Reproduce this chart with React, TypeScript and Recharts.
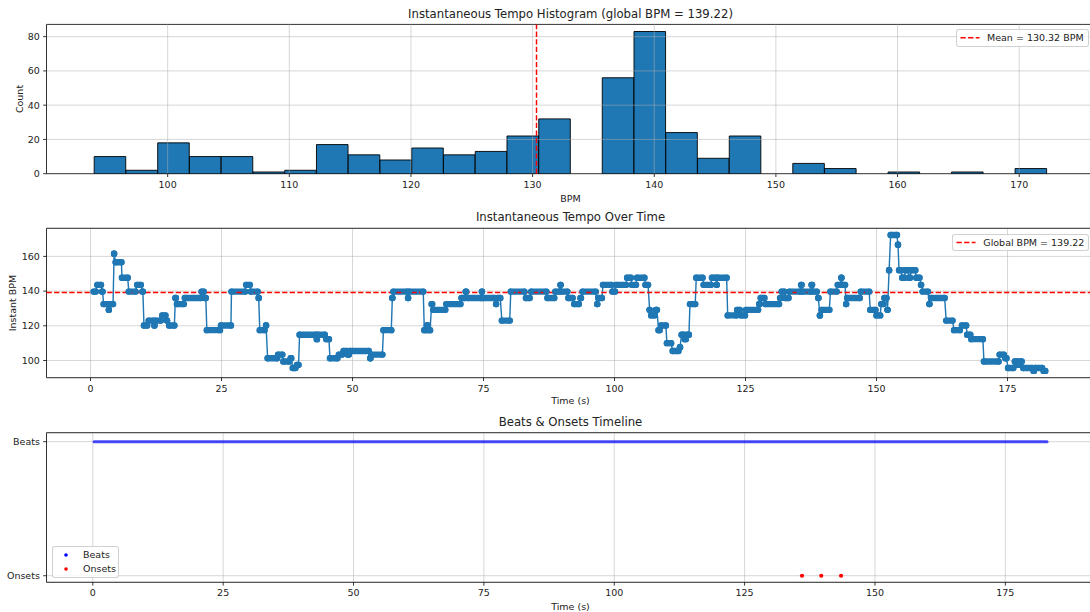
import React from 'react';
import {
  ComposedChart,
  Bar,
  Line,
  Scatter,
  XAxis,
  YAxis,
  CartesianGrid,
  ReferenceLine,
  ReferenceArea,
} from 'recharts';

// ---------------- data ----------------
const histBinCenters = [
  95.265, 97.876, 100.486, 103.096, 105.707, 108.317, 110.927, 113.538, 116.148, 118.758,
  121.369, 123.979, 126.589, 129.2, 131.81, 134.42, 137.031, 139.641, 142.251, 144.862,
  147.472, 150.082, 152.693, 155.303, 157.913, 160.524, 163.134, 165.744, 168.355, 170.965,
];
const histCounts = [
  10, 2, 18, 10, 10, 1, 2, 17, 11, 8, 15, 11, 13, 22, 32, 0, 56, 83, 24, 9, 22, 0, 6, 3, 0, 1, 0, 1,
  0, 3,
];
const histBinWidth = 2.61;
const meanBpm = 130.32;
const globalBpm = 139.22;
const bpmTicks = [100, 110, 120, 130, 140, 150, 160, 170];
const countTicks = [0, 20, 40, 60, 80];

// tempo runs: [start time (s), end time (s), instant BPM]
const tempoRuns: [number, number, number][] = [
  [0.6, 1.0, 139.7], [1.3, 2.0, 143.6], [2.2, 2.3, 139.7], [2.5, 3.2, 132.5], [3.5, 3.5, 129.2],
  [3.8, 4.3, 132.5], [4.5, 4.5, 161.5], [4.8, 5.9, 156.6], [6.0, 7.1, 147.7], [7.3, 8.6, 139.7],
  [8.9, 9.6, 143.6], [9.9, 10.0, 139.7], [10.2, 10.8, 120.2], [11.1, 12.0, 123.0], [12.2, 12.2, 120.2],
  [12.4, 13.4, 123.0], [13.7, 14.3, 126.0], [14.6, 14.6, 123.0], [15.0, 16.0, 120.2], [16.2, 16.3, 136.0],
  [16.5, 17.8, 132.5], [18.0, 21.0, 136.0], [21.2, 21.6, 139.7], [21.8, 22.0, 136.0], [22.2, 24.7, 117.5],
  [24.9, 26.8, 120.2], [26.9, 29.5, 139.7], [29.7, 30.4, 143.6], [30.6, 31.9, 139.7], [32.1, 32.1, 136.0],
  [32.3, 33.2, 117.5], [33.5, 33.5, 120.2], [33.8, 35.6, 101.3], [35.8, 36.6, 103.4], [36.8, 37.9, 99.4],
  [38.2, 38.3, 101.3], [38.6, 39.1, 95.7], [39.4, 39.7, 97.5], [39.9, 43.0, 114.8], [43.2, 43.2, 112.3],
  [43.4, 44.7, 114.8], [45.0, 45.5, 112.3], [45.7, 47.1, 101.3], [47.4, 48.0, 103.4], [48.3, 48.9, 105.5],
  [49.1, 49.3, 103.4], [49.5, 53.1, 105.5], [53.4, 53.4, 101.3], [53.6, 55.7, 103.4], [55.9, 57.4, 117.5],
  [57.6, 57.6, 136.0], [57.8, 60.4, 139.7], [60.6, 60.6, 136.0], [60.8, 63.5, 139.7], [63.7, 64.0, 117.5],
  [64.2, 64.4, 120.2], [64.6, 64.8, 117.5], [65.1, 65.2, 132.5], [65.4, 67.7, 129.2], [67.9, 70.6, 132.5],
  [70.8, 71.4, 136.0], [71.6, 71.7, 139.7], [72.0, 74.5, 136.0], [74.7, 74.7, 139.7], [74.9, 77.1, 136.0],
  [77.4, 77.4, 132.5], [77.7, 78.2, 136.0], [78.5, 80.0, 123.0], [80.2, 82.8, 139.7], [83.1, 83.8, 136.0],
  [84.1, 87.0, 139.7], [87.2, 88.5, 136.0], [88.7, 89.4, 139.7], [89.7, 89.7, 143.6], [89.9, 91.0, 139.7],
  [91.2, 92.0, 136.0], [92.3, 93.2, 132.5], [93.5, 93.6, 136.0], [93.9, 96.4, 139.7], [96.7, 96.7, 132.5],
  [96.9, 97.6, 136.0], [97.8, 99.4, 143.6], [99.6, 100.1, 139.7], [100.3, 102.2, 143.6], [102.4, 103.1, 147.7],
  [103.3, 104.1, 143.6], [104.3, 105.7, 147.7], [105.9, 106.4, 143.6], [106.7, 106.7, 129.2], [107.0, 107.6, 126.0],
  [107.9, 108.1, 129.2], [108.4, 108.6, 117.5], [108.9, 109.8, 120.2], [110.0, 110.8, 110.0], [111.1, 112.2, 105.5],
  [112.5, 112.5, 107.7], [112.8, 113.2, 114.8], [113.4, 113.6, 112.3], [113.8, 114.2, 114.8], [114.4, 115.4, 132.5],
  [115.6, 116.8, 147.7], [117.0, 118.4, 143.6], [118.6, 119.3, 147.7], [119.5, 119.5, 143.6], [119.7, 121.4, 147.7],
  [121.6, 123.2, 126.0], [123.4, 123.9, 129.2], [124.2, 124.9, 126.0], [125.1, 127.4, 129.2], [127.6, 127.7, 132.5],
  [127.9, 128.6, 136.0], [128.8, 131.4, 132.5], [131.6, 131.7, 136.0], [131.9, 132.4, 139.7], [132.6, 133.2, 136.0],
  [133.4, 135.4, 139.7], [135.6, 135.7, 143.6], [135.9, 137.4, 139.7], [137.6, 137.7, 143.6], [137.9, 138.6, 139.7],
  [138.9, 138.9, 136.0], [139.2, 139.2, 126.0], [139.5, 141.0, 129.2], [141.2, 142.4, 139.7], [142.6, 143.1, 143.6],
  [143.3, 143.3, 147.7], [143.5, 144.0, 143.6], [144.2, 144.2, 132.5], [144.4, 146.8, 136.0], [147.0, 148.6, 139.7],
  [148.8, 149.8, 129.2], [150.0, 150.7, 126.0], [150.9, 151.3, 132.5], [151.5, 151.9, 136.0], [152.1, 152.1, 129.2],
  [152.4, 152.4, 152.0], [152.7, 153.9, 172.3], [154.1, 154.1, 166.7], [154.3, 154.7, 152.0], [154.9, 155.3, 147.7],
  [155.5, 156.0, 152.0], [156.2, 156.4, 147.7], [156.6, 157.4, 152.0], [157.6, 158.2, 147.7], [158.5, 158.5, 143.6],
  [158.8, 159.8, 139.7], [160.1, 160.1, 132.5], [160.4, 163.0, 136.0], [163.3, 164.5, 123.0], [164.8, 165.9, 117.5],
  [166.3, 167.1, 120.2], [167.3, 167.9, 114.8], [168.1, 170.3, 112.3], [170.5, 173.3, 99.4], [173.5, 174.3, 103.4],
  [174.6, 174.8, 101.3], [175.1, 176.1, 95.7], [176.4, 176.8, 99.4], [177.0, 177.2, 97.5], [177.4, 177.7, 99.4],
  [178.0, 179.7, 95.7], [180.0, 180.0, 94.0], [180.3, 181.6, 95.7], [181.9, 182.2, 94.0],
];
const tempoTicks = [100, 120, 140, 160];
const timeTicks = [0, 25, 50, 75, 100, 125, 150, 175];

// beats & onsets
const beatSpan = [0.25, 183.0]; // first and last detected beat (s)
const onsetTimes = [136.0, 139.7, 143.5];
const timelineLabels = ['Onsets', 'Beats'];

// ---------------- style / layout ----------------
const FONT = '"DejaVu Sans", "Liberation Sans", sans-serif';
const BLUE = '#1f77b4';
const RED = '#ff0000';
const GRID = '#b0b0b0';
const GRID_OP = 0.5;
const SPINE = '#333333';
const TEXT = '#222222';
const CHART_W = 1100;
const PLOT_LEFT = 46.5;
const PLOT_RIGHT = 1094.5;
const M_RIGHT = CHART_W - PLOT_RIGHT;

const tickStyle = { fill: TEXT, fontSize: 9.5, fontFamily: FONT };
const tickLineStyle = { stroke: '#000', strokeWidth: 0.8 };

const H_X = [90.04, 176.19];
const H_Y = [0, 87.15];
const T_X = [-8.4, 191.6];
const T_Y = [90.08, 176.2];
const B_X = [-8.88, 192.1];
const B_Y = [-0.049, 1.067];

// slightly under the band width so that Recharts keeps the explicit size
const barSize = ((histBinWidth * (PLOT_RIGHT - PLOT_LEFT)) / (H_X[1] - H_X[0])) * 0.994;

function Txt({ x, y, size, rotate, children }: any) {
  return (
    <div
      style={{
        position: 'absolute',
        left: x,
        top: y,
        transform: `translate(-50%, -50%)${rotate ? ' rotate(-90deg)' : ''}`,
        fontSize: size,
        lineHeight: 1,
        whiteSpace: 'nowrap',
        color: TEXT,
        fontFamily: FONT,
      }}
    >
      {children}
    </div>
  );
}

type LegendEntry = { label: string; kind: 'dash' | 'dot'; color: string; cy: number };

function LegendBox({ left, top, width, height, entries }: any) {
  return (
    <div
      style={{
        position: 'absolute',
        left,
        top,
        width,
        height,
        boxSizing: 'border-box',
        border: '1px solid rgba(204,204,204,0.9)',
        borderRadius: 3,
        background: 'rgba(255,255,255,0.85)',
      }}
    >
      <svg width={width} height={height} style={{ position: 'absolute', left: -1, top: -1 }}>
        {entries.map((e: LegendEntry, i: number) =>
          e.kind === 'dash' ? (
            <line
              key={i}
              x1={4.5}
              x2={23.5}
              y1={e.cy}
              y2={e.cy}
              stroke={e.color}
              strokeWidth={1.43}
              strokeDasharray="5.3 2.3"
            />
          ) : (
            <circle key={i} cx={14} cy={e.cy} r={1.8} fill={e.color} />
          )
        )}
      </svg>
      {entries.map((e: LegendEntry, i: number) => (
        <div
          key={i}
          style={{
            position: 'absolute',
            left: 30,
            top: e.cy - 1,
            transform: 'translateY(-50%)',
            fontSize: 9.5,
            lineHeight: 1,
            whiteSpace: 'nowrap',
            color: TEXT,
            fontFamily: FONT,
          }}
        >
          {e.label}
        </div>
      ))}
    </div>
  );
}

function Histogram() {
  const data = histBinCenters.map((c, i) => ({ bpm: c, count: histCounts[i] }));
  return (
    <ComposedChart
      width={CHART_W}
      height={212}
      data={data}
      margin={{ top: 24.4, right: M_RIGHT, bottom: 8.3, left: 0 }}
      barCategoryGap={0}
      barGap={0}
    >
      <XAxis
        dataKey="bpm"
        type="number"
        domain={H_X}
        ticks={bpmTicks}
        interval={0}
        height={30}
        axisLine={false}
        tickLine={tickLineStyle}
        tickSize={3.3}
        tickMargin={4}
        tick={tickStyle}
        allowDataOverflow
      />
      <YAxis
        type="number"
        domain={H_Y}
        ticks={countTicks}
        interval={0}
        width={PLOT_LEFT}
        axisLine={false}
        tickLine={tickLineStyle}
        tickSize={3.3}
        tickMargin={3.3}
        tick={tickStyle}
        allowDataOverflow
      />
      <Bar
        dataKey="count"
        fill={BLUE}
        stroke="#000"
        strokeWidth={0.9}
        barSize={barSize}
        isAnimationActive={false}
      />
      {bpmTicks.map((v) => (
        <ReferenceLine key={'gx' + v} x={v} stroke={GRID} strokeOpacity={GRID_OP} strokeWidth={1} />
      ))}
      {countTicks.slice(1).map((v) => (
        <ReferenceLine key={'gy' + v} y={v} stroke={GRID} strokeOpacity={GRID_OP} strokeWidth={1} />
      ))}
      <ReferenceLine x={meanBpm} stroke={RED} strokeWidth={1.43} strokeDasharray="5.3 2.3" />
      <ReferenceArea x1={H_X[0]} x2={H_X[1]} y1={H_Y[0]} y2={H_Y[1]} fill="none" stroke={SPINE} strokeWidth={1} />
    </ComposedChart>
  );
}

function TempoOverTime() {
  const pathData = tempoRuns.flatMap(([s, e, b]) => [
    { t: s, bpm: b },
    { t: e, bpm: b },
  ]);
  const bandData = tempoRuns.flatMap(([s, e, b]) => [
    { t: s, bpm: b },
    { t: e, bpm: b },
    { t: e, bpm: null },
  ]);
  return (
    <ComposedChart width={CHART_W} height={207} margin={{ top: 23.3, right: M_RIGHT, bottom: 4.3, left: 0 }}>
      <CartesianGrid stroke={GRID} strokeOpacity={GRID_OP} strokeWidth={1} />
      <XAxis
        dataKey="t"
        type="number"
        domain={T_X}
        ticks={timeTicks}
        interval={0}
        height={30}
        axisLine={false}
        tickLine={tickLineStyle}
        tickSize={3.3}
        tickMargin={4}
        tick={tickStyle}
        allowDataOverflow
      />
      <YAxis
        type="number"
        domain={T_Y}
        ticks={tempoTicks}
        interval={0}
        width={PLOT_LEFT}
        axisLine={false}
        tickLine={tickLineStyle}
        tickSize={3.3}
        tickMargin={3.3}
        tick={tickStyle}
        allowDataOverflow
      />
      <Line
        data={pathData}
        dataKey="bpm"
        type="linear"
        stroke={BLUE}
        strokeWidth={1.43}
        dot={false}
        activeDot={false}
        isAnimationActive={false}
      />
      <Line
        data={bandData}
        dataKey="bpm"
        type="linear"
        stroke={BLUE}
        strokeWidth={6.4}
        strokeLinecap="round"
        strokeLinejoin="round"
        connectNulls={false}
        dot={{ r: 3.2, fill: BLUE, stroke: 'none' }}
        activeDot={false}
        isAnimationActive={false}
      />
      <ReferenceLine y={globalBpm} stroke={RED} strokeWidth={1.43} strokeDasharray="5.3 2.3" />
      <ReferenceArea x1={T_X[0]} x2={T_X[1]} y1={T_Y[0]} y2={T_Y[1]} fill="none" stroke={SPINE} strokeWidth={1} />
    </ComposedChart>
  );
}

function BeatsTimeline() {
  const beatData = beatSpan.map((t) => ({ t, v: 1 }));
  const onsetData = onsetTimes.map((t) => ({ t, v: 0 }));
  return (
    <ComposedChart width={CHART_W} height={202} margin={{ top: 22.7, right: M_RIGHT, bottom: 4.7, left: 0 }}>
      <CartesianGrid stroke={GRID} strokeOpacity={GRID_OP} strokeWidth={1} />
      <XAxis
        dataKey="t"
        type="number"
        domain={B_X}
        ticks={timeTicks}
        interval={0}
        height={25}
        axisLine={false}
        tickLine={tickLineStyle}
        tickSize={3.3}
        tickMargin={4}
        tick={tickStyle}
        allowDataOverflow
      />
      <YAxis
        dataKey="v"
        type="number"
        domain={B_Y}
        ticks={[0, 1]}
        interval={0}
        width={PLOT_LEFT}
        axisLine={false}
        tickLine={tickLineStyle}
        tickSize={3.3}
        tickMargin={3.3}
        tick={tickStyle}
        tickFormatter={(v: number) => timelineLabels[v]}
        allowDataOverflow
      />
      <Line
        data={beatData}
        dataKey="v"
        type="linear"
        stroke="#0000ff"
        strokeOpacity={0.7}
        strokeWidth={3}
        strokeLinecap="round"
        dot={false}
        activeDot={false}
        isAnimationActive={false}
      />
      <Scatter
        data={onsetData}
        dataKey="v"
        fill={RED}
        isAnimationActive={false}
        shape={(p: any) => <circle cx={p.cx} cy={p.cy} r={2.1} fill={RED} />}
      />
      <ReferenceArea x1={B_X[0]} x2={B_X[1]} y1={B_Y[0]} y2={B_Y[1]} fill="none" stroke={SPINE} strokeWidth={1} />
    </ComposedChart>
  );
}

export default function App() {
  return (
    <div
      style={{
        position: 'absolute',
        left: 0,
        top: 0,
        width: 1090,
        height: 612,
        overflow: 'hidden',
        background: '#ffffff',
        fontFamily: FONT,
      }}
    >
      <div style={{ position: 'absolute', left: 0, top: 0 }}>
        <Histogram />
      </div>
      <div style={{ position: 'absolute', left: 0, top: 205 }}>
        <TempoOverTime />
      </div>
      <div style={{ position: 'absolute', left: 0, top: 410 }}>
        <BeatsTimeline />
      </div>

      <Txt x={570.5} y={15} size={11.7}>Instantaneous Tempo Histogram (global BPM = 139.22)</Txt>
      <Txt x={570.5} y={198.5} size={9.5}>BPM</Txt>
      <Txt x={19.5} y={99} size={9.5} rotate>Count</Txt>

      <Txt x={570.5} y={218.3} size={11.7}>Instantaneous Tempo Over Time</Txt>
      <Txt x={570.5} y={401} size={9.5}>Time (s)</Txt>
      <Txt x={12.5} y={303} size={9.5} rotate>Instant BPM</Txt>

      <Txt x={570.5} y={422.7} size={11.7}>Beats &amp; Onsets Timeline</Txt>
      <Txt x={570.5} y={606.5} size={9.5}>Time (s)</Txt>

      <LegendBox
        left={956}
        top={29.3}
        width={133}
        height={17.4}
        entries={[{ label: 'Mean = 130.32 BPM', kind: 'dash', color: RED, cy: 8.7 }]}
      />
      <LegendBox
        left={952.3}
        top={234.3}
        width={136.5}
        height={17}
        entries={[{ label: 'Global BPM = 139.22', kind: 'dash', color: RED, cy: 8.5 }]}
      />
      <LegendBox
        left={52}
        top={545.7}
        width={67.2}
        height={32.6}
        entries={[
          { label: 'Beats', kind: 'dot', color: '#0000ff', cy: 9 },
          { label: 'Onsets', kind: 'dot', color: RED, cy: 23 },
        ]}
      />
    </div>
  );
}
